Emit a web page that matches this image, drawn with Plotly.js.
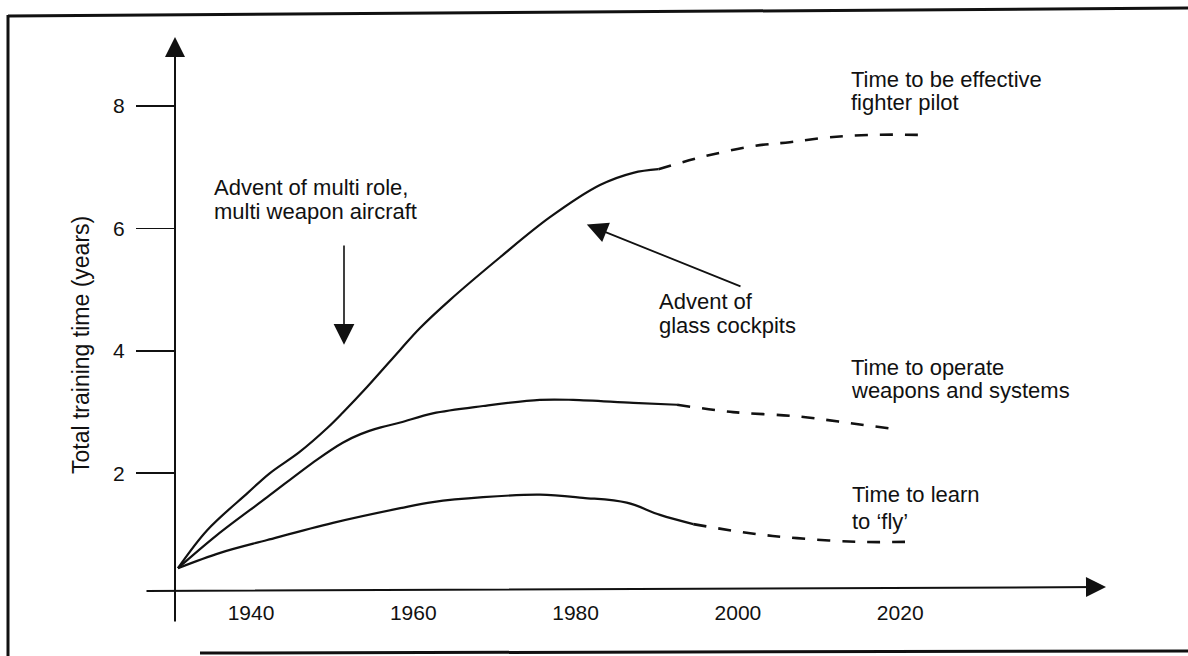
<!DOCTYPE html>
<html><head><meta charset="utf-8">
<script src="https://cdn.plot.ly/plotly-3.0.1.min.js"></script>
<style>html,body{margin:0;padding:0;background:#fff}#chart{width:1188px;height:656px}</style>
</head><body><div id="chart"></div>
<script>
// ---- data ----
const pilotYears      = [1931.0, 1934.6, 1939.6, 1942.3, 1946.0, 1949.4, 1951.3, 1954.3, 1958.4, 1960.8, 1964.5, 1970.7, 1976.8, 1983.0, 1987.1, 1990.2];
const pilotValues     = [0.45, 1.07, 1.68, 2.00, 2.35, 2.74, 2.99, 3.41, 4.02, 4.37, 4.83, 5.53, 6.18, 6.71, 6.91, 6.97];
const pilotProjYears  = [1990.2, 1995.9, 2002.1, 2006.4, 2011.3, 2016.6, 2022.4];
const pilotProjValues = [6.97, 7.18, 7.35, 7.41, 7.49, 7.53, 7.53];

const weaponsYears      = [1931.0, 1935.8, 1942.0, 1948.1, 1951.3, 1953.5, 1956.0, 1958.4, 1962.4, 1968.6, 1975.6, 1979.7, 1987.1, 1992.5];
const weaponsValues     = [0.45, 0.99, 1.61, 2.22, 2.50, 2.64, 2.75, 2.83, 2.98, 3.10, 3.20, 3.20, 3.15, 3.12];
const weaponsProjYears  = [1992.5, 1999.4, 2007.3, 2013.8, 2020.0];
const weaponsProjValues = [3.12, 3.00, 2.93, 2.82, 2.71];

const flyYears      = [1931.0, 1936.2, 1942.0, 1950.1, 1958.4, 1962.4, 1968.6, 1975.6, 1980.9, 1986.3, 1990.4, 1994.5];
const flyValues     = [0.45, 0.70, 0.91, 1.19, 1.43, 1.53, 1.61, 1.65, 1.60, 1.52, 1.32, 1.17];
const flyProjYears  = [1994.5, 2001.5, 2007.3, 2014.7, 2021.0];
const flyProjValues = [1.17, 1.02, 0.94, 0.88, 0.88];

const xTickYears  = [1940, 1960, 1980, 2000, 2020];
const xTickLabels = ['1940', '1960', '1980', '2000', '2020'];
const yTickValues = [2, 4, 6, 8];
const yTickLabels = ['2', '4', '6', '8'];

const yAxisTitle = 'Total training time (years)';
const noteLines = [
  'Time to be effective', 'fighter pilot',
  'Advent of multi role,', 'multi weapon aircraft',
  'Advent of', 'glass cockpits',
  'Time to operate', 'weapons and systems',
  'Time to learn', 'to \u2018fly\u2019'
];

// ---- layout helpers (pixel placement) ----
const W = 1188, H = 656;
const PLOT = {l: 175, r: 1110, t: 33, b: 589};
const px2x = p => (p - PLOT.l) / (PLOT.r - PLOT.l);
const px2y = p => (PLOT.b - p) / (PLOT.b - PLOT.t);
const INK = '#111111';
const FONT = 'Liberation Sans, Arial, Helvetica, sans-serif';

const solid = {color: INK, width: 2.2, shape: 'spline', smoothing: 1};
const dashed = {color: INK, width: 2.6, shape: 'spline', smoothing: 1, dash: '13px,12px'};

const traces = [
  {x: pilotYears, y: pilotValues, mode: 'lines', line: solid, name: 'Time to be effective fighter pilot'},
  {x: pilotProjYears, y: pilotProjValues, mode: 'lines', line: dashed, name: 'projection'},
  {x: weaponsYears, y: weaponsValues, mode: 'lines', line: solid, name: 'Time to operate weapons and systems'},
  {x: weaponsProjYears, y: weaponsProjValues, mode: 'lines', line: dashed, name: 'projection'},
  {x: flyYears, y: flyValues, mode: 'lines', line: solid, name: "Time to learn to 'fly'"},
  {x: flyProjYears, y: flyProjValues, mode: 'lines', line: dashed, name: 'projection'}
];

const notePos = [
  [850, 79], [850, 102.5],
  [213, 187], [213, 211],
  [658, 301], [658, 325],
  [850, 367], [850, 390.5],
  [851, 495], [851, 521]
];

const annotations = noteLines.map((t, i) => ({
  text: t, xref: 'paper', yref: 'paper',
  x: px2x(notePos[i][0]), y: px2y(notePos[i][1]),
  xanchor: 'left', yanchor: 'middle', showarrow: false, borderpad: 0,
  font: {family: FONT, size: 22, color: INK}
}));

annotations.push({
  text: yAxisTitle, xref: 'paper', yref: 'paper',
  x: px2x(81), y: px2y(345), textangle: -90,
  xanchor: 'center', yanchor: 'middle', showarrow: false, borderpad: 0,
  font: {family: FONT, size: 23, color: INK}
});

function arrow(hx, hy, tx, ty, w, s) {
  return {
    text: '', xref: 'paper', yref: 'paper',
    x: px2x(hx), y: px2y(hy), ax: tx - hx, ay: ty - hy,
    showarrow: true, arrowhead: 2, arrowwidth: w, arrowsize: s,
    arrowcolor: INK, standoff: w * s
  };
}
annotations.push(arrow(175, 33, 175, 623, 2, 2));      // y axis
annotations.push(arrow(1110, 587, 145, 591, 2, 2));    // x axis
annotations.push(arrow(344, 349, 344, 244, 1.6, 2.6)); // multi role arrow
annotations.push(arrow(583, 223, 742, 287, 1.8, 2.3)); // glass cockpits arrow

const frameLine = (x0, y0, x1, y1) => ({
  type: 'line', xref: 'paper', yref: 'paper',
  x0: px2x(x0), y0: px2y(y0), x1: px2x(x1), y1: px2y(y1),
  line: {color: INK, width: 3}
});

const layout = {
  width: W, height: H,
  margin: {l: PLOT.l, r: W - PLOT.r, t: PLOT.t, b: H - PLOT.b, pad: 0},
  paper_bgcolor: '#ffffff', plot_bgcolor: '#ffffff',
  showlegend: false,
  font: {family: FONT, color: INK},
  xaxis: {
    range: [1940 + (PLOT.l - 251) / 8.115, 1940 + (PLOT.r - 251) / 8.115],
    showgrid: false, zeroline: false, showline: false, ticks: '',
    tickmode: 'array', tickvals: xTickYears, ticktext: xTickLabels,
    tickfont: {family: FONT, size: 21, color: INK}, ticklabelstandoff: 9
  },
  yaxis: {
    range: [(595.7 - PLOT.b) / 61.2, (595.7 - PLOT.t) / 61.2],
    showgrid: false, zeroline: false, showline: false,
    ticks: 'outside', ticklen: 38, tickwidth: 1.6, tickcolor: INK,
    tickmode: 'array', tickvals: yTickValues, ticktext: yTickLabels,
    tickfont: {family: FONT, size: 21, color: INK}, ticklabelstandoff: 7
  },
  annotations: annotations,
  shapes: [
    frameLine(8, 15, 8, 656),
    frameLine(8, 16, 1188, 8),
    frameLine(200, 653, 1188, 651)
  ]
};

Plotly.newPlot('chart', traces, layout, {displayModeBar: false, staticPlot: true});
</script>
</body></html>
